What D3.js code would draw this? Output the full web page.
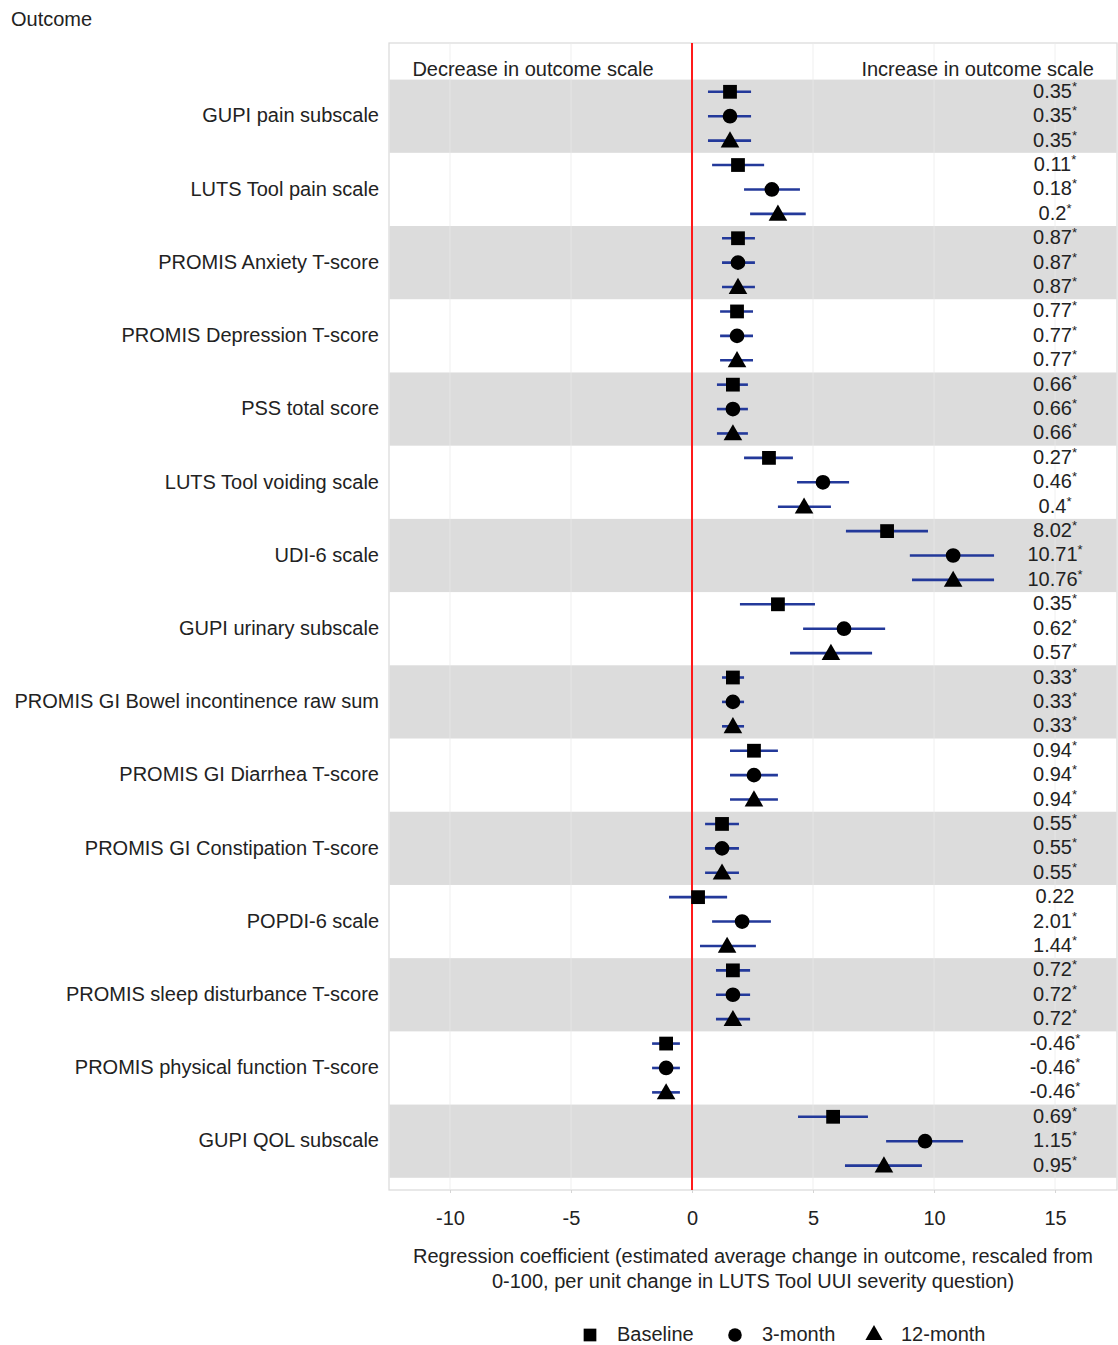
<!DOCTYPE html>
<html>
<head>
<meta charset="utf-8">
<script src="https://cdn.jsdelivr.net/npm/d3@7"></script>
<style>
  body { margin: 0; background: #fff; }
  svg { display: block; font-family: "Liberation Sans", Arial, sans-serif; }
</style>
</head>
<body>
<svg id="chart" width="1118" height="1345"></svg>
<script>
// Outcomes, top to bottom
const outcomes = [
  "GUPI pain subscale", "LUTS Tool pain scale", "PROMIS Anxiety T-score",
  "PROMIS Depression T-score", "PSS total score", "LUTS Tool voiding scale",
  "UDI-6 scale", "GUPI urinary subscale", "PROMIS GI Bowel incontinence raw sum",
  "PROMIS GI Diarrhea T-score", "PROMIS GI Constipation T-score", "POPDI-6 scale",
  "PROMIS sleep disturbance T-score", "PROMIS physical function T-score", "GUPI QOL subscale"
];
const timepoints = ["Baseline", "3-month", "12-month"];

// rescaled estimates [baseline, 3-month, 12-month] per outcome
const estimate = [
  [1.57, 1.57, 1.57], [1.9, 3.3, 3.55], [1.9, 1.9, 1.9], [1.86, 1.86, 1.86],
  [1.69, 1.69, 1.69], [3.18, 5.41, 4.63], [8.06, 10.79, 10.79], [3.55, 6.28, 5.74],
  [1.69, 1.69, 1.69], [2.56, 2.56, 2.56], [1.24, 1.24, 1.24], [0.25, 2.07, 1.45],
  [1.69, 1.69, 1.69], [-1.07, -1.07, -1.07], [5.83, 9.63, 7.93]
];
const lower = [
  [0.66, 0.66, 0.66], [0.83, 2.15, 2.4], [1.24, 1.24, 1.24], [1.16, 1.16, 1.16],
  [1.03, 1.03, 1.03], [2.15, 4.34, 3.55], [6.36, 9.0, 9.09], [1.98, 4.59, 4.05],
  [1.24, 1.24, 1.24], [1.57, 1.57, 1.57], [0.54, 0.54, 0.54], [-0.95, 0.83, 0.33],
  [0.99, 0.99, 0.99], [-1.65, -1.65, -1.65], [4.38, 8.02, 6.32]
];
const upper = [
  [2.44, 2.44, 2.44], [2.98, 4.46, 4.7], [2.6, 2.6, 2.6], [2.52, 2.52, 2.52],
  [2.31, 2.31, 2.31], [4.17, 6.49, 5.74], [9.75, 12.48, 12.48], [5.08, 7.98, 7.44],
  [2.15, 2.15, 2.15], [3.55, 3.55, 3.55], [1.94, 1.94, 1.94], [1.45, 3.26, 2.64],
  [2.4, 2.4, 2.4], [-0.5, -0.5, -0.5], [7.27, 11.2, 9.5]
];
// raw coefficients shown on the right, and significance
const coefLabel = [
  ["0.35", "0.35", "0.35"], ["0.11", "0.18", "0.2"], ["0.87", "0.87", "0.87"],
  ["0.77", "0.77", "0.77"], ["0.66", "0.66", "0.66"], ["0.27", "0.46", "0.4"],
  ["8.02", "10.71", "10.76"], ["0.35", "0.62", "0.57"], ["0.33", "0.33", "0.33"],
  ["0.94", "0.94", "0.94"], ["0.55", "0.55", "0.55"], ["0.22", "2.01", "1.44"],
  ["0.72", "0.72", "0.72"], ["-0.46", "-0.46", "-0.46"], ["0.69", "1.15", "0.95"]
];
const significant = [
  [1, 1, 1], [1, 1, 1], [1, 1, 1], [1, 1, 1], [1, 1, 1], [1, 1, 1], [1, 1, 1], [1, 1, 1],
  [1, 1, 1], [1, 1, 1], [1, 1, 1], [0, 1, 1], [1, 1, 1], [1, 1, 1], [1, 1, 1]
];
const xTicks = [-10, -5, 0, 5, 10, 15];

const svg = d3.select("#chart");
const panel = { left: 389, right: 1117, top: 43, bottom: 1190 };
const fs = 20;

const x = d3.scaleLinear().domain([-12.52, 17.56]).range([panel.left, panel.right]);
// row index: -1 is the header row, 0..44 the estimate rows
const y = d3.scaleLinear().domain([-2, 45]).range([panel.top, panel.bottom]);
const rowH = y(1) - y(0);

// build flat rows from the arrays
const rows = [];
outcomes.forEach((o, i) => {
  timepoints.forEach((t, k) => {
    rows.push({
      group: i, time: k, row: i * 3 + k,
      est: estimate[i][k], lo: lower[i][k], hi: upper[i][k],
      label: coefLabel[i][k], sig: significant[i][k]
    });
  });
});

// panel background
svg.append("rect")
  .attr("x", panel.left).attr("y", panel.top)
  .attr("width", panel.right - panel.left).attr("height", panel.bottom - panel.top)
  .attr("fill", "#fff").attr("stroke", "#d9d9d9").attr("stroke-width", 1.2);

// alternating shaded bands
svg.append("g").selectAll("rect")
  .data(outcomes.map((o, i) => i).filter(i => i % 2 === 0))
  .join("rect")
  .attr("x", panel.left + 0.6)
  .attr("y", i => y(i * 3) - rowH / 2)
  .attr("width", panel.right - panel.left - 1.2)
  .attr("height", rowH * 3)
  .attr("fill", "#dcdcdc");

// faint vertical grid
svg.append("g").selectAll("line")
  .data(xTicks)
  .join("line")
  .attr("x1", d => x(d)).attr("x2", d => x(d))
  .attr("y1", panel.top).attr("y2", panel.bottom)
  .attr("stroke", "#ebebeb").attr("stroke-width", 1)
  .attr("opacity", 0.7);

// reference line at zero
svg.append("line")
  .attr("x1", x(0)).attr("x2", x(0))
  .attr("y1", panel.top).attr("y2", panel.bottom)
  .attr("stroke", "#ff1a1a").attr("stroke-width", 2);

// header texts
svg.append("text")
  .attr("x", x(-6.57)).attr("y", y(-1) + 3)
  .attr("text-anchor", "middle").attr("dominant-baseline", "middle")
  .attr("font-size", fs).attr("fill", "#222")
  .text("Decrease in outcome scale");
svg.append("text")
  .attr("x", x(11.8)).attr("y", y(-1) + 3)
  .attr("text-anchor", "middle").attr("dominant-baseline", "middle")
  .attr("font-size", fs).attr("fill", "#222")
  .text("Increase in outcome scale");

// confidence intervals
svg.append("g").selectAll("line")
  .data(rows)
  .join("line")
  .attr("x1", d => x(d.lo)).attr("x2", d => x(d.hi))
  .attr("y1", d => y(d.row)).attr("y2", d => y(d.row))
  .attr("stroke", "#23399a").attr("stroke-width", 2.6);

// point markers
const symbols = [d3.symbolSquare, d3.symbolCircle, d3.symbolTriangle];
const sizes = [190, 170, 150];
svg.append("g").selectAll("path")
  .data(rows)
  .join("path")
  .attr("transform", d => `translate(${x(d.est)},${y(d.row) + (d.time === 2 ? 1.5 : 0)})`)
  .attr("d", d => d3.symbol().type(symbols[d.time]).size(sizes[d.time])())
  .attr("fill", "#000");

// coefficient labels on the right
const lbl = svg.append("g").selectAll("text")
  .data(rows)
  .join("text")
  .attr("x", x(15)).attr("y", d => y(d.row) + 1)
  .attr("text-anchor", "middle").attr("dominant-baseline", "middle")
  .attr("font-size", fs).attr("fill", "#222");
lbl.append("tspan").text(d => d.label);
lbl.filter(d => d.sig).append("tspan")
  .attr("font-size", 13).attr("dy", -5)
  .text("*");

// outcome labels
svg.append("g").selectAll("text")
  .data(outcomes)
  .join("text")
  .attr("x", 379).attr("y", (d, i) => y(i * 3 + 1) + 1)
  .attr("text-anchor", "end").attr("dominant-baseline", "middle")
  .attr("font-size", fs).attr("fill", "#222")
  .text(d => d);

// x axis
const xAxis = svg.append("g")
  .attr("transform", `translate(0,${panel.bottom})`)
  .call(d3.axisBottom(x).tickValues(xTicks).tickSize(3).tickPadding(18).tickFormat(d => String(d)));
xAxis.select(".domain").remove();
xAxis.selectAll(".tick line").attr("stroke", "#d5d5d5");
xAxis.selectAll(".tick text")
  .attr("font-size", fs).attr("fill", "#222")
  .attr("font-family", "'Liberation Sans', Arial, sans-serif");

// axis title
const title = svg.append("text")
  .attr("x", (panel.left + panel.right) / 2).attr("y", 1263)
  .attr("text-anchor", "middle").attr("font-size", fs).attr("fill", "#222");
title.append("tspan").attr("x", (panel.left + panel.right) / 2)
  .text("Regression coefficient (estimated average change in outcome, rescaled from");
title.append("tspan").attr("x", (panel.left + panel.right) / 2).attr("dy", 24.5)
  .text("0-100, per unit change in LUTS Tool UUI severity question)");

// y title
svg.append("text")
  .attr("x", 11).attr("y", 26)
  .attr("font-size", fs).attr("fill", "#222")
  .text("Outcome");

// legend
const legendX = [590, 735, 874];
const legend = svg.append("g").selectAll("g")
  .data(timepoints)
  .join("g")
  .attr("transform", (d, i) => `translate(${legendX[i]},1335)`);
legend.append("path")
  .attr("d", (d, i) => d3.symbol().type(symbols[i]).size(sizes[i] * 0.85)())
  .attr("fill", "#000");
legend.append("text")
  .attr("x", 27).attr("y", 1)
  .attr("dominant-baseline", "middle")
  .attr("font-size", fs).attr("fill", "#222")
  .text(d => d);
</script>
</body>
</html>
